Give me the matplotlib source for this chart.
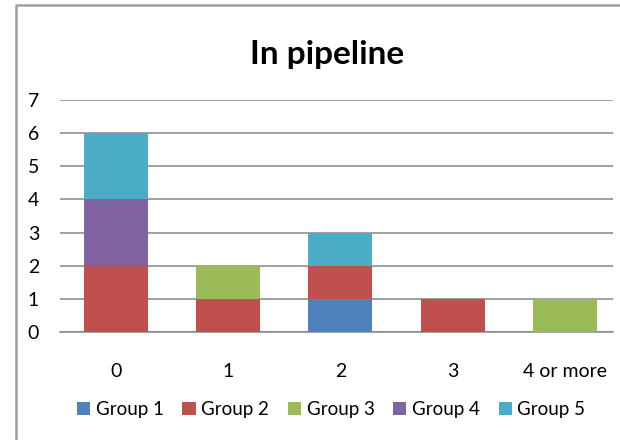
import matplotlib.pyplot as plt
from matplotlib.lines import Line2D

plt.rcParams["font.family"] = ["Lato", "DejaVu Sans"]

# Pipeline counts per bucket, one list per group
categories = ["0", "1", "2", "3", "4 or more"]
group_names = ["Group 1", "Group 2", "Group 3", "Group 4", "Group 5"]
group_1 = [0, 0, 1, 0, 0]
group_2 = [2, 1, 1, 1, 0]
group_3 = [0, 1, 0, 0, 1]
group_4 = [2, 0, 0, 0, 0]
group_5 = [2, 0, 1, 0, 0]
colors = ["#4F81BD", "#C0504D", "#9BBB59", "#8064A2", "#4BACC6"]

series = [group_1, group_2, group_3, group_4, group_5]

fig = plt.figure(figsize=(6.2, 4.4), dpi=100)
ax = fig.add_axes([60 / 620, 108 / 440, 553 / 620, 232 / 440])

x = range(len(categories))
bottom = [0] * len(categories)
for name, values, color in zip(group_names, series, colors):
    ax.bar(x, values, 0.57, bottom=bottom, color=color, label=name, zorder=3)
    bottom = [b + v for b, v in zip(bottom, values)]

ax.set_ylim(0, 7)
ax.set_xlim(-0.5, 4.43)
ax.set_yticks(range(0, 8))
ax.set_xticks(list(x))
ax.set_xticklabels(categories)
ax.yaxis.grid(True, color="#868686", linewidth=1.1, zorder=0)
for side in ["left", "right", "top"]:
    ax.spines[side].set_visible(False)
ax.spines["bottom"].set_color("#868686")
ax.spines["bottom"].set_linewidth(1.1)
ax.tick_params(axis="both", length=0, labelsize=14)
ax.tick_params(axis="y", pad=15)
ax.tick_params(axis="x", pad=22)

fig.text(0.527, 0.877, "In pipeline", ha="center", va="center",
         fontsize=24, fontweight="bold")

fig.legend(loc="center", bbox_to_anchor=(0.534, 0.07), ncol=5, frameon=False,
           fontsize=13.5, handlelength=0.7, handleheight=0.7,
           handletextpad=0.3, columnspacing=1.0)

# outer chart frame: only the top and left edges fall inside the image
fx = 15.5 / 620
fy = 434.5 / 440
fig.lines.append(Line2D([fx, fx, 1.0], [0.0, fy, fy], transform=fig.transFigure,
                        color="#a0a0a0", linewidth=1.8))

fig.savefig("out.png", dpi=100)
